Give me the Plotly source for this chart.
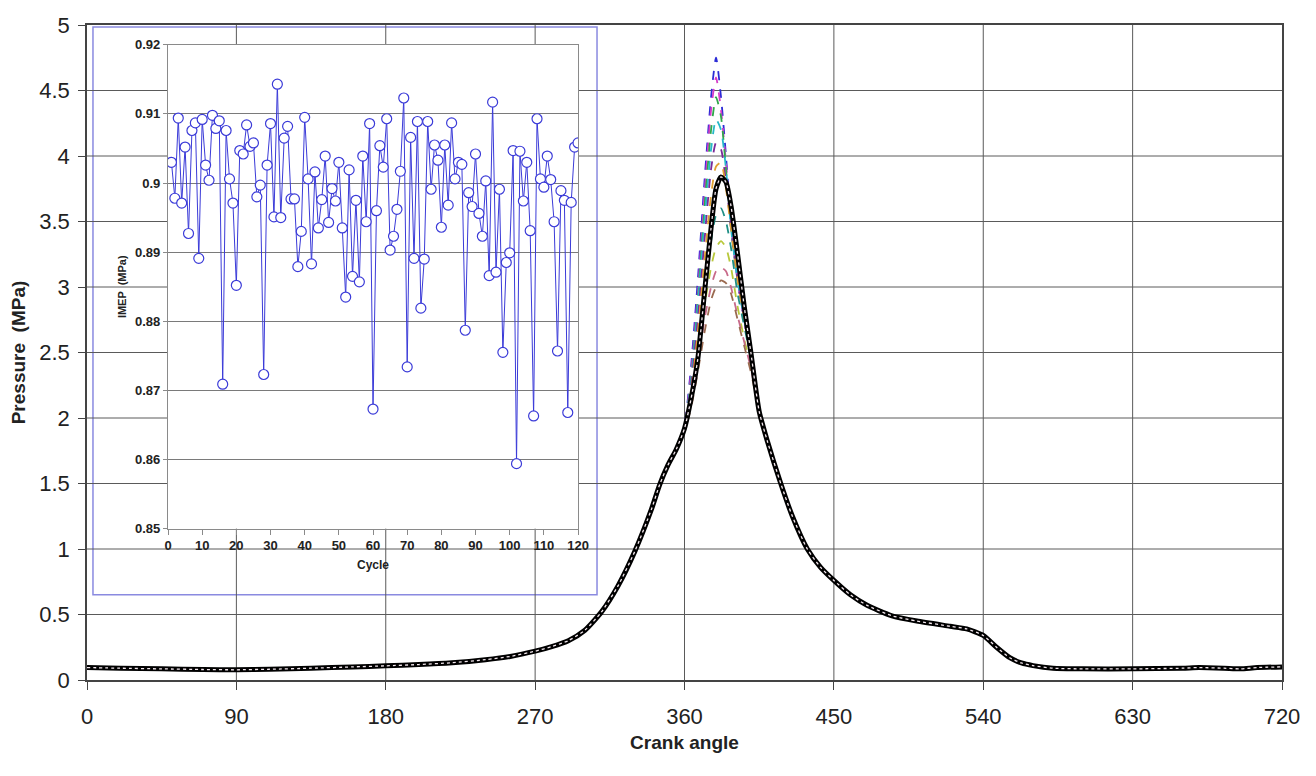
import plotly.graph_objects

##### main chart data: pressure vs crank angle #####
low_angles = [0, 20, 45, 70, 90, 110, 135, 160, 180, 200, 220, 240, 255, 270, 280,
              290, 300, 310, 320, 330, 340, 345, 350, 355]
low_pressure = [0.095, 0.09, 0.085, 0.08, 0.078, 0.082, 0.09, 0.1, 0.108, 0.118, 0.132,
                0.155, 0.18, 0.22, 0.255, 0.3, 0.38, 0.52, 0.72, 0.98, 1.3, 1.49, 1.64, 1.76]

peak_angles = [360, 364, 368, 372, 376, 379, 382, 385, 388, 392, 396, 400, 405]
mean_peak = [1.92, 2.15, 2.45, 2.95, 3.45, 3.75, 3.84, 3.8, 3.62, 3.25, 2.85, 2.5, 2.05]

tail_angles = [410, 418, 425, 434, 442, 450, 460, 470, 485, 500, 520, 530, 540, 548,
               556, 563, 570, 582, 600, 630, 660, 670, 685, 695, 705, 720]
tail_pressure = [1.82, 1.5, 1.25, 1.0, 0.86, 0.76, 0.65, 0.57, 0.49, 0.45, 0.41, 0.39,
                 0.34, 0.25, 0.17, 0.13, 0.11, 0.09, 0.085, 0.085, 0.09, 0.095, 0.09,
                 0.085, 0.095, 0.1]

# individual cycles only differ around the peak
cycle_peaks = [
    [1.95, 2.4, 3.05, 3.8, 4.45, 4.75, 4.45, 4.0, 3.5, 3.05, 2.75, 2.45, 2.05],
    [1.94, 2.35, 2.95, 3.7, 4.35, 4.6, 4.35, 3.95, 3.5, 3.05, 2.75, 2.45, 2.05],
    [1.94, 2.3, 2.9, 3.6, 4.2, 4.45, 4.3, 3.9, 3.45, 3.05, 2.75, 2.45, 2.05],
    [1.93, 2.28, 2.85, 3.5, 4.05, 4.28, 4.2, 3.9, 3.45, 3.05, 2.75, 2.45, 2.05],
    [1.93, 2.25, 2.75, 3.35, 3.9, 4.1, 4.05, 3.8, 3.45, 3.05, 2.75, 2.45, 2.05],
    [1.92, 2.2, 2.65, 3.2, 3.7, 3.92, 3.95, 3.75, 3.45, 3.05, 2.75, 2.45, 2.05],
    [1.92, 2.15, 2.5, 2.95, 3.35, 3.55, 3.6, 3.5, 3.3, 2.95, 2.7, 2.45, 2.05],
    [1.91, 2.12, 2.45, 2.85, 3.15, 3.3, 3.35, 3.3, 3.15, 2.85, 2.6, 2.4, 2.05],
    [1.91, 2.1, 2.4, 2.75, 3.0, 3.12, 3.15, 3.12, 3.0, 2.78, 2.58, 2.38, 2.05],
    [1.9, 2.08, 2.35, 2.65, 2.9, 3.0, 3.05, 3.03, 2.95, 2.75, 2.55, 2.35, 2.05],
]
cycle_colors = ["#2b2bd6", "#d63cc8", "#2fa84a", "#27b8c9", "#7a2a9a",
                "#e0a030", "#1f8f86", "#b8c83a", "#c86a8a", "#9a6a50"]

##### inset data: IMEP per cycle #####
cycles = list(range(1, 121))
imep = [0.9030, 0.8978, 0.9094, 0.8971, 0.9052, 0.8927, 0.9076, 0.9087, 0.8891, 0.9092,
        0.9026, 0.9004, 0.9098, 0.9079, 0.9090, 0.8709, 0.9076, 0.9006, 0.8971, 0.8852,
        0.9047, 0.9042, 0.9084, 0.9053, 0.9058, 0.8980, 0.8997, 0.8723, 0.9026, 0.9086,
        0.8951, 0.9143, 0.8950, 0.9065, 0.9082, 0.8977, 0.8977, 0.8879, 0.8930, 0.9095,
        0.9006, 0.8883, 0.9016, 0.8935, 0.8976, 0.9039, 0.8943, 0.8992, 0.8974, 0.9030,
        0.8935, 0.8835, 0.9019, 0.8865, 0.8975, 0.8857, 0.9039, 0.8944, 0.9086, 0.8673,
        0.8960, 0.9054, 0.9023, 0.9093, 0.8903, 0.8923, 0.8962, 0.9017, 0.9123, 0.8734,
        0.9066, 0.8891, 0.9089, 0.8819, 0.8890, 0.9089, 0.8991, 0.9055, 0.9033, 0.8936,
        0.9055, 0.8968, 0.9087, 0.9006, 0.9030, 0.9027, 0.8787, 0.8986, 0.8966, 0.9042,
        0.8956, 0.8923, 0.9003, 0.8866, 0.9117, 0.8871, 0.8991, 0.8755, 0.8885, 0.8899,
        0.9047, 0.8594, 0.9046, 0.8974, 0.9030, 0.8931, 0.8663, 0.9093, 0.9006, 0.8994,
        0.9039, 0.9005, 0.8944, 0.8757, 0.8989, 0.8975, 0.8668, 0.8972, 0.9052, 0.9058]

x_ticks = [0, 90, 180, 270, 360, 450, 540, 630, 720]
y_ticks = [0, 0.5, 1, 1.5, 2, 2.5, 3, 3.5, 4, 4.5, 5]

FONT = "Liberation Sans Narrow, Arial Narrow, Liberation Sans, Arial"
GRID = "#5a5a5a"

fig = plotly.graph_objects.Figure()

all_angles = low_angles + peak_angles + tail_angles
for peak, color in zip(cycle_peaks, cycle_colors):
    fig.add_trace(plotly.graph_objects.Scatter(
        x=all_angles, y=low_pressure + peak + tail_pressure, mode="lines",
        line=dict(color=color, width=1.8, dash="dash", shape="spline", smoothing=0.6),
        showlegend=False, hoverinfo="skip"))

mean_curve = low_pressure + mean_peak + tail_pressure
fig.add_trace(plotly.graph_objects.Scatter(
    x=all_angles, y=mean_curve, mode="lines",
    line=dict(color="black", width=5, shape="spline", smoothing=0.6),
    showlegend=False, hoverinfo="skip"))
fig.add_trace(plotly.graph_objects.Scatter(
    x=all_angles, y=mean_curve, mode="lines",
    line=dict(color="#f4e8ee", width=1.3, dash="dot", shape="spline", smoothing=0.6),
    showlegend=False, hoverinfo="skip"))

# inset
fig.add_trace(plotly.graph_objects.Scatter(
    x=cycles, y=imep, mode="lines+markers", xaxis="x2", yaxis="y2",
    line=dict(color="#3b3bd8", width=1),
    marker=dict(symbol="circle", size=10, color="white",
                line=dict(color="#3b3bd8", width=1.2)),
    showlegend=False))

##### grid of the main chart, kept under the inset box #####
for a in x_ticks[1:-1]:
    fig.add_shape(type="line", xref="x", yref="y", x0=a, x1=a, y0=0, y1=5,
                  line=dict(color=GRID, width=1), layer="below")
for p in y_ticks[1:-1]:
    fig.add_shape(type="line", xref="x", yref="y", x0=0, x1=720, y0=p, y1=p,
                  line=dict(color=GRID, width=1), layer="below")
fig.add_shape(type="rect", xref="paper", yref="paper", x0=0.005, x1=0.4268,
              y0=0.1303, y1=0.997, fillcolor="white",
              line=dict(color="#8a8ae0", width=1.5), layer="below")

# page body adds an 8px offset, margins are set against it
fig.update_layout(
    width=1316, height=776,
    margin=dict(l=79, r=42, t=10, b=104),
    paper_bgcolor="white", plot_bgcolor="white",
    font=dict(family=FONT, color="#222222"),
    xaxis=dict(range=[0, 720], tickvals=x_ticks, showgrid=False, zeroline=False,
               automargin=False,
               showline=True, mirror=True, linecolor="#444444", linewidth=1.5,
               ticks="outside", ticklen=8, tickcolor="#444444", ticklabelstandoff=8,
               tickfont=dict(size=22),
               title=dict(text="Crank angle", standoff=8,
                          font=dict(size=19, weight="bold"))),
    yaxis=dict(range=[0, 5], tickvals=y_ticks, showgrid=False, zeroline=False,
               automargin=False,
               showline=True, mirror=True, linecolor="#444444", linewidth=1.5,
               ticks="outside", ticklen=7, tickcolor="#444444", ticklabelstandoff=4,
               tickfont=dict(size=22),
               title=dict(text="Pressure  (MPa)", standoff=18,
                          font=dict(size=19, weight="bold"))),
    xaxis2=dict(domain=[0.0678, 0.4109], anchor="y2", range=[0, 120], dtick=10,
                showgrid=False, zeroline=False, showline=True, mirror=True,
                linecolor="#8a8a8a", linewidth=1.2, ticks="outside", ticklen=5,
                tickcolor="#8a8a8a",
                tickfont=dict(family="Liberation Sans, Arial", size=13, weight="bold"),
                title=dict(text="Cycle", standoff=8,
                           font=dict(family="Liberation Sans, Arial", size=12,
                                     weight="bold"))),
    yaxis2=dict(domain=[0.2311, 0.9698], anchor="x2", range=[0.85, 0.92], dtick=0.01,
                tickformat="~g",
                showgrid=True, gridcolor="#7a7a7a", gridwidth=1, zeroline=False,
                showline=True, mirror=True, linecolor="#8a8a8a", linewidth=1.2,
                ticks="outside", ticklen=4, tickcolor="#8a8a8a",
                tickfont=dict(family="Liberation Sans, Arial", size=13, weight="bold"),
                title=dict(text="IMEP  (MPa)", standoff=6,
                           font=dict(family="Liberation Sans, Arial", size=11,
                                     weight="bold"))),
)

fig.write_html("out.html")
